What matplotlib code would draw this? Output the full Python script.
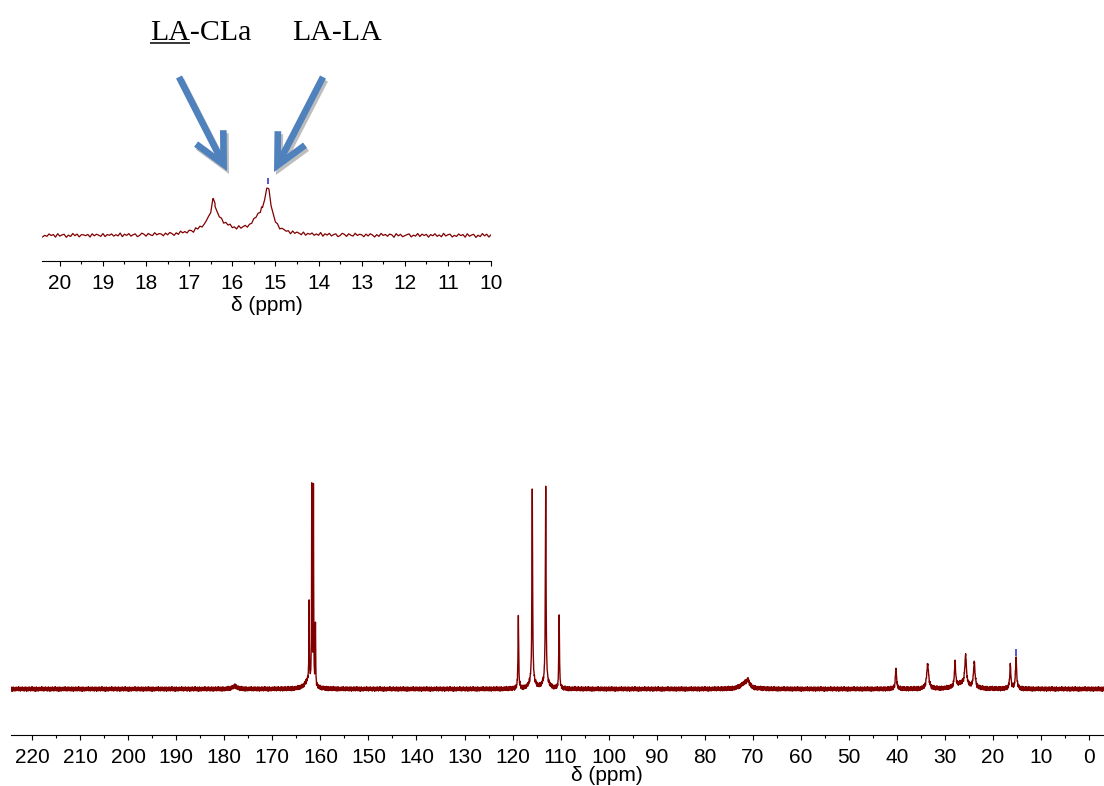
import numpy as np
import matplotlib
matplotlib.use("Agg")
import matplotlib.pyplot as plt
from matplotlib.patches import FancyArrowPatch
from matplotlib.ticker import MultipleLocator

# ---------------- data ----------------
# main 13C spectrum: peak position (ppm), height (a.u.), half width (ppm)
MAIN_PPM = [162.35, 161.79, 161.45, 161.03, 162.5,
            118.8, 115.9, 113.1, 110.3, 115.9, 113.1,
            177.8, 71.6, 71.0,
            40.2, 33.6, 27.9, 25.7, 23.9, 26.5, 16.4, 15.2]
MAIN_HEIGHT = [77, 198, 195, 63, 9,
               72, 189, 192, 72, 9, 9,
               3, 6, 5,
               20, 24, 24, 30, 25, 5, 23, 30]
MAIN_WIDTH = [0.05, 0.05, 0.05, 0.05, 0.8,
              0.08, 0.08, 0.08, 0.08, 0.6, 0.6,
              0.5, 1.0, 0.3,
              0.15, 0.25, 0.15, 0.2, 0.2, 1.5, 0.15, 0.15]
MAIN_MARK = [15.2]

# expansion 10-20 ppm
INSET_PPM = [16.44, 16.40, 15.17, 15.32]
INSET_HEIGHT = [20, 17, 35, 18]
INSET_WIDTH = [0.05, 0.3, 0.08, 0.25]
INSET_MARK = [15.17]

# baseline noise pattern (hand written, repeated)
NOISE = [0.3, -0.8, 0.6, -0.2, 0.9, -0.6, 0.1, -1.0, 0.5, 0.2, -0.4, 0.8, -0.9, 0.4,
         -0.1, 0.7, -0.5, 0.0, -0.8, 0.6, 0.3, -0.3, 1.0, -0.7, 0.2, -0.5, 0.8, -0.2,
         0.4, -0.9, 0.5, -0.1, 0.6, -0.6, 0.9, -0.4, 0.1, -0.8, 0.7, 0.3, -0.2, -0.7,
         0.5, -0.3, 0.8, -1.0, 0.2, 0.6, -0.5, 0.4, -0.1, 0.9, -0.6, 0.3, -0.9, 0.1,
         0.7, -0.4, 0.5, -0.8, 0.2, 0.4, -0.2, 0.9, -0.5, -0.1, 0.6, -0.7, 0.3, 0.8,
         -0.3, -0.9, 0.5, 0.1, -0.6, 0.7, -0.2, 0.4, -0.8, 1.0, -0.4, 0.2, -0.5, 0.6,
         -0.1, 0.3, -0.7, 0.8, -0.6, 0.0, 0.5, -0.3, 0.7, -0.9, 0.4, -0.2, 0.2]

MAIN_TICKS = list(range(0, 221, 10))
INSET_TICKS = list(range(10, 21, 1))
LABELS = ["LA-CLa", "LA-LA"]
XLABEL = "δ (ppm)"

LINE_COLOR = "#800000"
MARK_COLOR = "#3a3acc"
ARROW_COLOR = "#4f81bd"
SHADOW_COLOR = "#bdbdbd"


def spectrum(lo, hi, step, ppm, height, width, amp):
    x = np.concatenate([np.arange(lo, hi, step), np.asarray(ppm, float)])
    x = np.sort(x)
    y = np.zeros_like(x)
    for p, h, w in zip(ppm, height, width):
        y += h * w ** 2 / ((x - p) ** 2 + w ** 2)
    y += amp * np.resize(np.asarray(NOISE), x.size)
    return x, y


W, H = 1104, 786
fig = plt.figure(figsize=(W / 100, H / 100), dpi=100)


def style_axis(ax, major, minor):
    for s in ("left", "right", "top"):
        ax.spines[s].set_visible(False)
    ax.spines["bottom"].set_linewidth(0.8)
    ax.set_yticks([])
    ax.xaxis.set_major_locator(MultipleLocator(major))
    ax.xaxis.set_minor_locator(MultipleLocator(minor))
    ax.tick_params(axis="x", which="major", direction="out", length=3.8, width=0.8, pad=6.0,
                   labelsize=15)
    ax.tick_params(axis="x", which="minor", direction="out", length=2.2, width=0.8)
    ax.patch.set_alpha(0)


# ---------------- main spectrum ----------------
ax = fig.add_axes([11 / W, 51.3 / H, 1093 / W, 264.7 / H])
xm, ym = spectrum(-3.1, 224.45, 0.05, MAIN_PPM, MAIN_HEIGHT, MAIN_WIDTH, 2.3)
ax.plot(xm, ym, color=LINE_COLOR, lw=1.0)
ax.vlines(MAIN_MARK, 33, 40, color=MARK_COLOR, lw=1.2)
ax.set_xlim(224.4, -3.1)
ax.set_ylim(-45.7, 219)
style_axis(ax, 10, 5)
ax.set_xticks(MAIN_TICKS)
ax.set_xticklabels([str(t) for t in MAIN_TICKS], fontfamily="Liberation Sans", fontsize=15)
ax.set_xlabel(XLABEL, fontfamily="Liberation Sans", fontsize=15)
ax.xaxis.set_label_coords(0.5448, -0.120)

# ---------------- inset (10-20 ppm) ----------------
ai = fig.add_axes([41.7 / W, (H - 260.7) / H, 449.3 / W, 90.7 / H])
xi, yi = spectrum(10.0, 20.43, 0.05, INSET_PPM, INSET_HEIGHT, INSET_WIDTH, 2.0)
ai.plot(xi, yi, color=LINE_COLOR, lw=0.9)
ai.vlines(INSET_MARK, 51, 57.5, color=MARK_COLOR, lw=1.2)
ai.set_xlim(20.42, 10.0)
ai.set_ylim(-25.2, 65.5)
style_axis(ai, 1, 0.5)
ai.set_xticks(INSET_TICKS)
ai.set_xticklabels([str(t) for t in INSET_TICKS], fontfamily="Liberation Sans", fontsize=15)
ai.set_xlabel(XLABEL, fontfamily="Liberation Sans", fontsize=15)
ai.xaxis.set_label_coords(0.5008, -0.39)

# ---------------- annotations (pixel overlay) ----------------
ao = fig.add_axes([0, 0, 1, 1], zorder=5)
ao.set_xlim(0, W)
ao.set_ylim(H, 0)
ao.axis("off")
ao.patch.set_alpha(0)

serif = dict(family="Liberation Serif", size=21.5)
ao.text(150, 39.5, LABELS[0], ha="left", va="baseline", **serif)
ao.text(292, 39.5, LABELS[1], ha="left", va="baseline", **serif)
t_ul = ao.text(150, 39.5, "LA", ha="left", va="baseline", alpha=0, **serif)
fig.canvas.draw()
bb = t_ul.get_window_extent(fig.canvas.get_renderer())
x0, _ = ao.transData.inverted().transform((bb.x0, bb.y0))
x1, _ = ao.transData.inverted().transform((bb.x1, bb.y0))
ao.plot([x0, x1], [42.5, 42.5], color="black", lw=1.1, solid_capstyle="butt")

arrows = [((179, 77), (227, 171)), ((323, 77), (274, 172))]
for (a, b) in arrows:
    for dx, dy, col, z in ((2, 3, SHADOW_COLOR, 1), (0, 0, ARROW_COLOR, 2)):
        p = FancyArrowPatch((a[0] + dx, a[1] + dy), (b[0] + dx, b[1] + dy),
                            arrowstyle="->,head_length=2.2,head_width=1.1",
                            mutation_scale=10, lw=4.8, color=col,
                            shrinkA=0, shrinkB=0, capstyle="butt", joinstyle="miter",
                            zorder=z)
        ao.add_patch(p)

fig.savefig("out.png", dpi=100)
